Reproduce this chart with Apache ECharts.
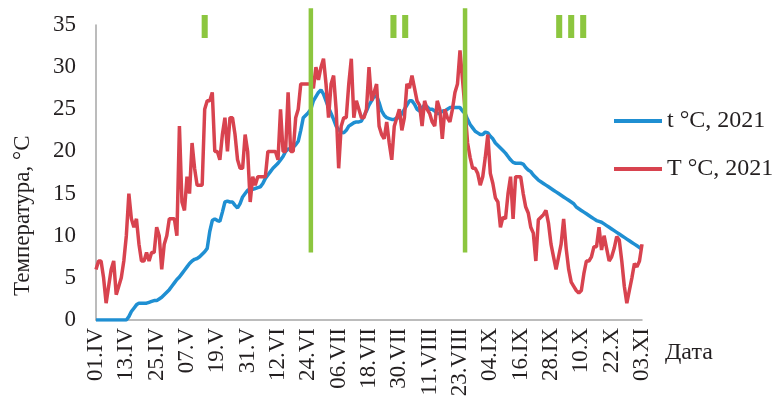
<!DOCTYPE html>
<html>
<head>
<meta charset="utf-8">
<script src="https://cdn.jsdelivr.net/npm/echarts@6/dist/echarts.min.js"></script>
<style>
  html, body { margin: 0; padding: 0; background: #fff; }
  #chart { width: 781px; height: 405px; }
</style>
</head>
<body>
<div id="chart"></div>
<script>
// daily dates 01.IV .. 03.XI
const monthNames = ['IV', 'V', 'VI', 'VII', 'VIII', 'IX', 'X', 'XI'];
const monthDays = [30, 31, 30, 31, 31, 30, 31, 3];
const dates = [];
monthNames.forEach((m, i) => {
  for (let d = 1; d <= monthDays[i]; d++) dates.push(String(d).padStart(2, '0') + '.' + m);
});

// t °C, 2021 (smooth, blue)
const tSmall = [
  0, 0, 0, 0, 0, 0, 0, 0, 0, 0,
  0, 0, 0, 0.4, 1, 1.4, 1.8, 2, 2, 2,
  2, 2.1, 2.2, 2.3, 2.3, 2.5, 2.7, 3, 3.3, 3.6,
  4, 4.4, 4.8, 5.1, 5.5, 5.9, 6.3, 6.7, 7, 7.2,
  7.3, 7.5, 7.8, 8.1, 8.5, 10.5, 11.8, 12, 11.8, 11.7,
  12.8, 14, 14.1, 14, 14, 13.6, 13.3, 13.8, 14.6, 15,
  15.4, 15.5, 15.5, 15.6, 15.7, 15.8, 16.2, 16.8, 17.2, 17.6,
  18, 18.3, 18.6, 19, 19.4, 20, 20.3, 20.3, 20.5, 20.8,
  21.2, 22.5, 24, 24.3, 24.6, 25, 26, 26.5, 27, 27.3,
  26.8, 26, 25.2, 24.5, 23.8, 23, 22.6, 22.3, 22.2, 22.5,
  23, 23.2, 23.4, 23.5, 23.5, 23.6, 24.2, 24.8, 25.5, 26,
  26.5, 26.6, 25.8, 24.8, 24.3, 24, 23.9, 23.8, 23.8, 24,
  24, 24.5, 25, 25.5, 26, 26, 25.6, 25, 24.8, 25.2,
  25.5, 25.3, 25, 25, 24.8, 24.5, 24.5, 24.8, 24.8, 25,
  25.2, 25.2, 25.2, 25.2, 25.2, 24.8, 24.5, 23.8, 23.2, 22.8,
  22.4, 22.2, 22, 22, 22.3, 22.2, 21.8, 21.5, 21, 20.7,
  20.4, 20.1, 19.8, 19.4, 19, 18.7, 18.6, 18.6, 18.6, 18.5,
  18.1, 17.8, 17.6, 17.2, 16.9, 16.6, 16.4, 16.2, 16, 15.8,
  15.6, 15.4, 15.2, 15, 14.8, 14.6, 14.4, 14.2, 14, 13.8,
  13.4, 13.2, 13, 12.8, 12.6, 12.4, 12.2, 12, 11.8, 11.7,
  11.6, 11.4, 11.2, 11, 10.8, 10.6, 10.4, 10.2, 10, 9.8,
  9.6, 9.4, 9.2, 9, 8.8, 8.6, 8.4
];

// T °C, 2021 (daily, red)
const tBig = [
  6, 7, 7, 5, 2, 4, 6, 7, 3, 4,
  5, 7, 10, 15, 12, 11, 12, 9, 7, 7,
  8, 7, 8, 8, 11, 10, 6, 9, 10, 12,
  12, 12, 10, 23, 14, 13, 17, 15, 21, 18,
  16, 16, 16, 25, 26, 26, 27, 20, 20, 19,
  22, 24, 20, 24, 24, 22, 19, 18, 18, 22,
  20, 14, 17, 16, 17, 17, 17, 17, 20, 20,
  20, 20, 19, 25, 20, 20, 27, 20, 20, 24,
  25, 28, 28, 28, 28, 28, 27.5, 30, 28.5, 30,
  31, 28, 24, 28, 29, 25, 18, 23, 24, 24,
  28, 31, 24, 26, 25, 24, 24, 25, 30, 26,
  27, 28, 23, 22, 21.5, 23.5, 21, 19, 23, 24,
  25, 22.5, 24, 28, 27.5, 29, 27.5, 26, 25.5, 23,
  26, 25, 24.5, 23.5, 23, 26, 25, 21.5, 25, 24,
  23.5, 25, 27, 28, 32, 28.5, 25, 21, 19.3, 18,
  18, 17.4, 16, 17, 19.3, 22, 17.4, 16.2, 14.5, 14,
  11, 12.2, 12, 15, 17, 12, 17, 17, 17, 15,
  13.4, 12.7, 11, 10.3, 7, 11.9, 12.2, 12.5, 13, 11.5,
  9, 7.5, 6, 7.5, 9, 12, 8.5, 6, 4.5, 4,
  3.5, 3.2, 3.5, 5.5, 7, 7, 7.5, 8.7, 8.7, 11,
  8.3, 10, 8.5, 7, 7.5, 8.5, 9.9, 9.5, 7, 4,
  2, 3.5, 5, 6.7, 6.3, 7, 9
];

// phase boundaries and labels
const phaseBounds = ['25.VI', '25.VIII'];
const phaseLineRange = [8, 37];
const phaseNames = ['I', 'II', 'III'];
const phaseNameAt = ['14.V', '30.VII', '06.X'];
const phaseNameLevel = 34.4;

const blue = '#1f8fd2';
const red = '#d8434f';
const green = '#8cc63f';
const textColor = '#231f20';
const axisColor = '#a6a6a6';
const serif = '"Liberation Serif", "Times New Roman", serif';

const chart = echarts.init(document.getElementById('chart'));

chart.setOption({
  animation: false,
  grid: { left: 96, right: 139, top: 25, bottom: 85 },
  legend: {
    orient: 'vertical',
    left: 609,
    top: 104,
    itemWidth: 48,
    itemHeight: 4,
    itemGap: 24,
    icon: 'rect',
    textStyle: { fontFamily: serif, fontSize: 24, color: textColor },
    data: ['t °C, 2021', 'T °C, 2021']
  },
  // axis titles are placed off-centre in the original, so draw them as text
  graphic: [
    {
      type: 'text',
      left: 665,
      top: 341,
      style: { text: 'Дата', font: '24px ' + serif, fill: textColor }
    },
    {
      type: 'text',
      x: 11,
      y: 296,
      rotation: Math.PI / 2,
      style: {
        text: 'Температура, °C',
        font: '23px ' + serif,
        fill: textColor,
        align: 'left',
        verticalAlign: 'top'
      }
    }
  ],
  xAxis: {
    type: 'category',
    data: dates,
    boundaryGap: false,
    axisLine: { lineStyle: { color: axisColor, width: 1.5 } },
    axisTick: { show: false },
    axisLabel: {
      interval: 11,
      rotate: 90,
      margin: 8,
      fontFamily: serif,
      fontSize: 23,
      color: textColor
    },
    splitLine: { show: false }
  },
  yAxis: {
    type: 'value',
    min: 0,
    max: 35,
    interval: 5,
    axisLine: { show: true, lineStyle: { color: axisColor, width: 1.5 } },
    axisTick: { show: false },
    axisLabel: { margin: 20, fontFamily: serif, fontSize: 23, color: textColor },
    splitLine: { show: false }
  },
  series: [
    {
      name: 't °C, 2021',
      type: 'line',
      data: tSmall,
      symbol: 'none',
      color: blue,
      lineStyle: { color: blue, width: 3.5 },
      z: 2
    },
    {
      name: 'T °C, 2021',
      type: 'line',
      data: tBig,
      symbol: 'none',
      color: red,
      lineStyle: { color: red, width: 3.5 },
      z: 3
    },
    {
      type: 'custom',
      z: 5,
      silent: true,
      data: phaseBounds.map(d => [d, phaseLineRange[0], phaseLineRange[1]]),
      encode: { x: 0, y: [1, 2] },
      renderItem(params, api) {
        const lo = api.coord([api.value(0), api.value(1)]);
        const hi = api.coord([api.value(0), api.value(2)]);
        return {
          type: 'line',
          shape: { x1: lo[0], y1: lo[1], x2: hi[0], y2: hi[1] },
          style: { stroke: green, lineWidth: 4.5 }
        };
      }
    },
    {
      type: 'custom',
      z: 5,
      silent: true,
      data: phaseNames.map((n, i) => [phaseNameAt[i], phaseNameLevel, n]),
      encode: { x: 0, y: 1 },
      renderItem(params, api) {
        const p = api.coord([api.value(0), api.value(1)]);
        return {
          type: 'text',
          x: p[0],
          y: p[1],
          style: {
            text: phaseNames[params.dataIndex],
            fill: green,
            font: 'bold 32px "DejaVu Sans"',
            align: 'center',
            verticalAlign: 'middle'
          }
        };
      }
    }
  ]
});
</script>
</body>
</html>
